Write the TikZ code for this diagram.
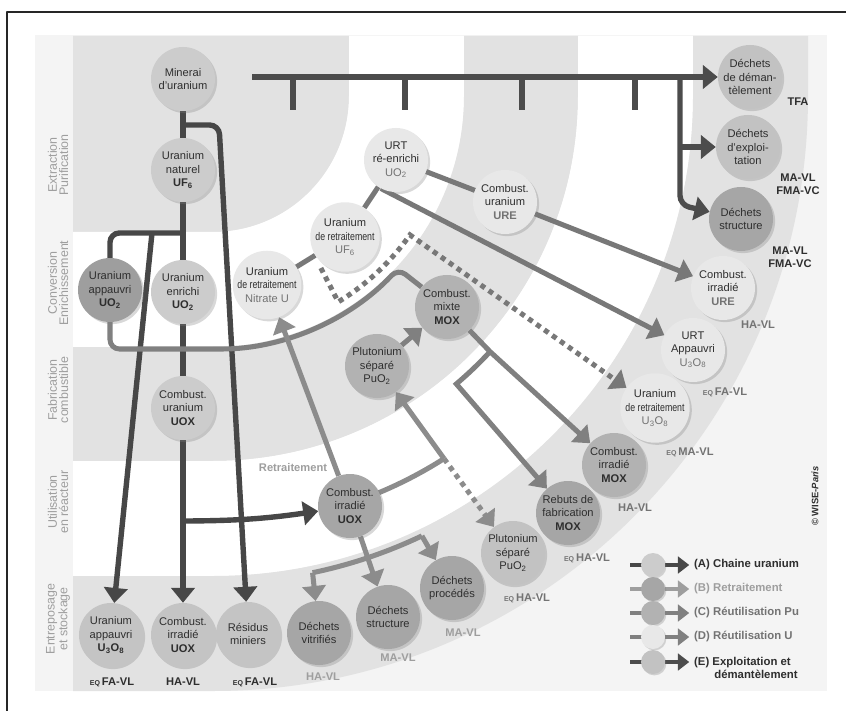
\documentclass[tikz,border=0pt]{standalone}
\usepackage{fontspec}
\setmainfont{Liberation Sans}
\usepackage{graphicx}
\usetikzlibrary{arrows.meta,calc,positioning,shadows}

\definecolor{aline}{gray}{0.28}
\definecolor{bline}{gray}{0.55}
\definecolor{cline}{gray}{0.50}
\definecolor{dline}{gray}{0.47}
\definecolor{eline}{gray}{0.30}
\definecolor{afill}{gray}{0.80}
\definecolor{sfill}{gray}{0.77}
\definecolor{bfill}{gray}{0.65}
\definecolor{cfill}{gray}{0.70}
\definecolor{dfill}{gray}{0.91}
\definecolor{efill}{gray}{0.76}
\definecolor{dkfill}{gray}{0.62}
\definecolor{bandgray}{gray}{0.885}
\definecolor{paper}{gray}{0.955}
\definecolor{txt}{gray}{0.18}
\definecolor{mtxt}{gray}{0.45}
\definecolor{ltxt}{gray}{0.62}

\pgfdeclarelayer{bands}
\pgfdeclarelayer{links}
\pgfsetlayers{bands,links,main}

\newcommand{\deretr}{\scalebox{0.79}[1]{de retraitement}}
\newcommand{\eqp}{{\fontsize{6}{6}\selectfont EQ}\,}
\newcommand{\grey}[1]{{\color{mtxt}#1}}

\tikzset{
  proc/.style={circle,minimum size=1.92cm,inner sep=0pt,align=center,
    text=txt,font=\fontsize{9.5}{11.3}\selectfont,
    drop shadow={shadow xshift=1.8pt,shadow yshift=-1.8pt,opacity=0.3}},
  waste/.style={font=\fontsize{9.5}{11}\selectfont\bfseries,align=center},
  bandlab/.style={rotate=90,align=center,text=ltxt,
    font=\fontsize{10.6}{9.6}\selectfont},
  achain/.style={draw=aline,line width=4.6pt},
  bchain/.style={draw=bline,line width=4.3pt},
  cchain/.style={draw=cline,line width=4.3pt},
  dchain/.style={draw=dline,line width=4.3pt},
  echain/.style={draw=eline,line width=4.6pt},
  dotline/.style={dash pattern=on 4.3pt off 4pt},
  legtext/.style={anchor=west,align=left,font=\fontsize{9.7}{11}\selectfont\bfseries},
}

\begin{document}
\begin{tikzpicture}[x=0.03cm,y=-0.03cm,line join=round,
    >={Triangle[length=0.45cm,width=0.7cm]}]
  \useasboundingbox (0,0) rectangle (846,711);
  \draw[line width=1.2pt,black!85] (7,720) -- (7,12) -- (850,12);

  % bands
  \begin{pgfonlayer}{bands}
    \fill[paper] (35,35) rectangle (827,691);
    \fill[bandgray] (73,36) -- (349,36) -- (349,96)
      arc[start angle=0,end angle=90,radius=136] -- (73,232) -- cycle;
    \foreach \ri/\ro/\col in {136/251/white,251/365/bandgray,365/480/white,480/595/bandgray}
      \fill[\col] (213+\ri,36) -- (213+\ro,36) -- (213+\ro,96)
        arc[start angle=0,end angle=90,radius=\ro] -- (73,96+\ro) -- (73,96+\ri)
        -- (213,96+\ri) arc[start angle=90,end angle=0,radius=\ri] -- cycle;
  \end{pgfonlayer}
  \coordinate (ctr) at (213,96);

  \node[bandlab] (lab1) at (58,165) {Extraction\\Purification};
  \node[bandlab] (lab2) at (58,283) {Conversion\\Enrichissement};
  \node[bandlab] (lab3) at (58,390) {Fabrication\\combustible};
  \node[bandlab] (lab4) at (58,502) {Utilisation\\en réacteur};
  \node[bandlab] (lab5) at (58,619) {Entreposage\\et stockage};

  % chaine uranium
  \node[proc,fill=afill] (minerai) at (183,79) {Minerai\\d'uranium};
  \node[proc,fill=afill] (naturel) at (183,170) {Uranium\\naturel\\\textbf{UF\textsubscript{6}}};
  \node[proc,fill=dkfill] (appUO2) at (110,290) {Uranium\\appauvri\\\textbf{UO\textsubscript{2}}};
  \node[proc,fill=afill] (enrichi) at (183,292) {Uranium\\enrichi\\\textbf{UO\textsubscript{2}}};
  \node[proc,fill=afill] (uox) at (183,408) {Combust.\\uranium\\\textbf{UOX}};
  \node[proc,fill=sfill] (appU3O8) at (111,635) {Uranium\\appauvri\\\textbf{U\textsubscript{3}O\textsubscript{8}}};
  \node[proc,fill=sfill] (suox) at (183,635) {Combust.\\irradié\\\textbf{UOX}};
  \node[proc,fill=sfill] (residus) at (248,634) {Résidus\\miniers};

  % reutilisation U
  \node[proc,fill=dfill] (nitrate) at (267,285) {Uranium\\\deretr\\\grey{Nitrate U}};
  \node[proc,fill=dfill] (uf6) at (345,237) {Uranium\\\deretr\\\grey{UF\textsubscript{6}}};
  \node[proc,fill=dfill] (urtre) at (396,160) {URT\\ré-enrichi\\\grey{UO\textsubscript{2}}};
  \node[proc,fill=dfill] (combure) at (505,202) {Combust.\\uranium\\\grey{\textbf{URE}}};
  \node[proc,fill=dfill] (irrure) at (723,288) {Combust.\\irradié\\\grey{\textbf{URE}}};
  \node[proc,fill=dfill] (urtapp) at (693,350) {URT\\Appauvri\\\grey{U\textsubscript{3}O\textsubscript{8}}};
  \node[proc,fill=dfill] (u3o8) at (655,408) {Uranium\\\deretr\\\grey{U\textsubscript{3}O\textsubscript{8}}};

  % reutilisation Pu
  \node[proc,fill=cfill] (pusep) at (377,366) {Plutonium\\séparé\\PuO\textsubscript{2}};
  \node[proc,fill=cfill] (mox) at (447,307) {Combust.\\mixte\\\textbf{MOX}};
  \node[proc,fill=cfill] (irrmox) at (614,465) {Combust.\\irradié\\\textbf{MOX}};
  \node[proc,fill=bfill] (rebuts) at (568,513) {Rebuts de\\fabrication\\\textbf{MOX}};
  \node[proc,fill=cfill!80!white] (pusep2) at (513,553) {Plutonium\\séparé\\PuO\textsubscript{2}};

  % retraitement
  \node[proc,fill=bfill] (Ruox) at (350,506) {Combust.\\irradié\\\textbf{UOX}};
  \node[proc,fill=bfill] (vitrif) at (319,633) {Déchets\\vitrifiés};
  \node[proc,fill=bfill] (struct) at (388,617) {Déchets\\structure};
  \node[proc,fill=bfill] (proced) at (452,588) {Déchets\\procédés};
  \node[font=\fontsize{9.5}{11}\selectfont\bfseries,text=ltxt] (retr) at (293,468) {Retraitement};

  % exploitation et demantelement
  \node[proc,fill=efill] (dem) at (750,77) {Déchets\\de déman-\\tèlement};
  \node[proc,fill=efill] (expl) at (748,147) {Déchets\\d'exploi-\\tation};
  \node[proc,fill=bfill] (struct2) at (741,219) {Déchets\\structure};

  % classes de dechets
  \node[waste,text=txt] (wdem) at (798,102) {TFA};
  \node[waste,text=txt] (wexpl) at (798,184) {MA-VL\\FMA-VC};
  \node[waste,text=txt] (wstr2) at (790,257) {MA-VL\\FMA-VC};
  \node[waste,text=mtxt] (wure) at (758,325) {HA-VL};
  \node[waste,text=mtxt] (wapp) at (725,392) {\eqp FA-VL};
  \node[waste,text=mtxt] (wu3o8) at (690,452) {\eqp MA-VL};
  \node[waste,text=mtxt] (wmox) at (635,508) {HA-VL};
  \node[waste,text=mtxt] (wreb) at (587,558) {\eqp HA-VL};
  \node[waste,text=mtxt] (wpu) at (527,598) {\eqp HA-VL};
  \node[waste,text=ltxt] (wproc) at (463,633) {MA-VL};
  \node[waste,text=ltxt] (wstr) at (398,658) {MA-VL};
  \node[waste,text=ltxt] (wvit) at (323,677) {HA-VL};
  \node[waste,text=txt] (wapp2) at (112,682) {\eqp FA-VL};
  \node[waste,text=txt] (wsuox) at (183,682) {HA-VL};
  \node[waste,text=txt] (wres) at (255,682) {\eqp FA-VL};

  % junctions
  \coordinate (jres) at (183,125);
  \coordinate (jnat) at (183,233);
  \coordinate (jdep) at (152,233);
  \coordinate (juox) at (183,521);
  \coordinate (barstart) at (252,77);
  \coordinate (jbar) at (680,77);
  \coordinate (jexp) at (680,147);
  \coordinate (jpu) at ($(ctr)+(57.5:430)$);
  \coordinate (jv) at ($(ctr)+(78.2:487)$);
  \coordinate (jd) at ($(ctr)+(64.6:487)$);
  \coordinate (jm1) at ($(ctr)+(42.7:377)$);
  \coordinate (jd1) at ($(ctr)+(57.9:203)$);
  \coordinate (jd2) at ($(ctr)+(58.7:241)$);

  \begin{pgfonlayer}{links}
    % A
    \draw[achain] (minerai) -- (naturel) (naturel) -- (enrichi) (enrichi) -- (uox);
    \draw[achain,->,rounded corners=8pt] (jres) -- (219,125) -- (residus);
    \draw[achain,rounded corners=8pt] (jnat) -- (110,233) -- (appUO2);
    \draw[achain,->] (jdep) -- (appU3O8);
    \draw[achain,->] (uox) -- (suox);
    \draw[achain,->] (juox) to[bend right=4] (Ruox);
    % E
    \draw[echain,->] (barstart) -- (dem);
    \foreach \x in {293,405,522,635}
      \draw[echain] (\x,77) -- (\x,110);
    \draw[echain,->,rounded corners=8pt] (jbar) -- (680,205) -- (struct2);
    \draw[echain,->] (jexp) -- (expl);
    % D
    \draw[dchain] (nitrate) -- (uf6) (uf6) -- (urtre) (urtre) -- (combure);
    \draw[dchain,->] (urtre.-118) -- (urtapp);
    \draw[dchain,->] (combure) -- (irrure);
    \draw[dchain,dotline,->] (jd1) -- (jd2)
      arc[start angle=58.7,end angle=35.2,radius=241] -- (u3o8);
    % C
    \draw[cchain,->] (pusep) -- (mox);
    \draw[cchain,rounded corners=8pt] (appUO2) -- (110,349) -- (213,349)
      arc[start angle=90,end angle=43,radius=253] -- (mox);
    \draw[cchain,->] (mox) -- (jm1) -- (irrmox);
    \draw[cchain,->] (jm1) arc[start angle=42.7,end angle=49.8,radius=377] -- (rebuts);
    % B
    \draw[bchain,->] (Ruox) -- (nitrate);
    \draw[bchain] (jpu) arc[start angle=57.5,end angle=71.5,radius=430];
    \draw[bchain,->] (jpu) -- (pusep);
    \draw[bchain,dotline,->] (jpu) -- (pusep2);
    \draw[bchain,->] (Ruox) -- (struct);
    \draw[bchain] (jv) arc[start angle=78.2,end angle=64.6,radius=487];
    \draw[bchain,->] (jv) -- (vitrif);
    \draw[bchain,->] (jd) -- (proced);
  \end{pgfonlayer}

  % legende
  \foreach \n/\y/\ty/\cc/\lc/\tc/\lab in {
      a/565/565/afill/aline/txt/{(A) Chaine uranium},
      b/589/589/bfill/ltxt/ltxt/{(B) Retraitement},
      c/613/613/cfill/cline/mtxt/{(C) Réutilisation Pu},
      d/637/637/dfill/cline/mtxt/{(D) Réutilisation U},
      e/662/668/efill/eline/txt/{(E) Exploitation et\\\hphantom{(E) }\,démantèlement}}{
    \node[circle,fill=\cc,minimum size=0.72cm,
      drop shadow={shadow xshift=1.2pt,shadow yshift=-1.2pt,opacity=0.3}] (leg\n) at (653,\y) {};
    \node[legtext,text=\tc] (legt\n) at (690,\ty) {\lab};
    \begin{pgfonlayer}{links}
      \draw[line width=4pt,draw=\lc] (leg\n.center) -- ++(-23,0);
      \draw[line width=4pt,draw=\lc,-{Triangle[length=0.34cm,width=0.5cm]}]
        (leg\n.east) -- ++(24,0);
    \end{pgfonlayer}
  }

  \node[rotate=90,font=\fontsize{8}{8}\selectfont\bfseries,text=txt] (copy) at (815,496)
    {\textcopyright\ WISE-\textit{Paris}};
\end{tikzpicture}
\end{document}
